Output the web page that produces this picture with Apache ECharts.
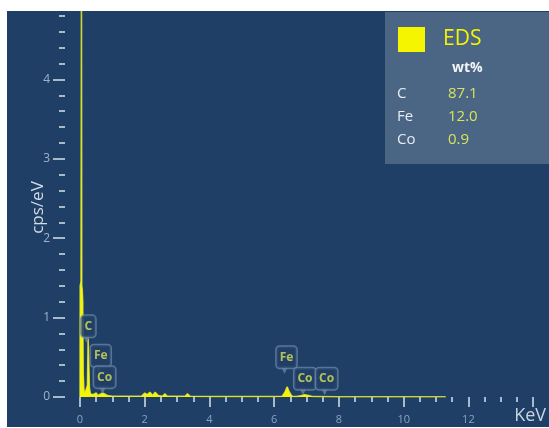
<!DOCTYPE html>
<html>
<head>
<meta charset="utf-8">
<script src="https://cdn.jsdelivr.net/npm/echarts@6/dist/echarts.min.js"></script>
<style>
    html, body { margin: 0; padding: 0; background: #ffffff; }
    #bg { position: absolute; left: 7px; top: 11px; width: 542px; height: 416px; background: #1f3f67; }
    #main { position: absolute; left: 0; top: 0; width: 549px; height: 428px; }
</style>
</head>
<body>
<div id="bg"></div>
<div id="main"></div>
<script>
    // EDS 能谱 (keV, cps/eV)
    var energy = [0, 0.005, 0.03, 0.045, 0.055, 0.07, 0.085, 0.1, 0.12, 0.15, 0.2, 0.23, 0.25, 0.27, 0.29, 0.32,
        0.4, 0.5, 0.55, 0.6, 0.7, 0.76, 0.85, 1.0, 1.3, 1.6, 1.9, 2.0, 2.08, 2.16, 2.25, 2.32, 2.42, 2.55,
        2.62, 2.7, 3.0, 3.25, 3.32, 3.4, 4.0, 5.0, 6.0, 6.25, 6.33, 6.4, 6.47, 6.55, 6.7, 6.85, 6.93, 7.06,
        7.2, 8.0, 9.0, 10.0, 11.3];
    var counts = [0.0, 1.4, 1.45, 5.6, 1.4, 1.35, 1.2, 0.3, 0.1, 0.04, 0.03, 0.15, 0.74, 0.5, 0.12, 0.04,
        0.03, 0.05, 0.02, 0.03, 0.05, 0.04, 0.02, 0.01, 0.01, 0.01, 0.01, 0.05, 0.03, 0.06, 0.02, 0.06, 0.02, 0.01,
        0.04, 0.01, 0.01, 0.01, 0.04, 0.01, 0.005, 0.005, 0.005, 0.01, 0.06, 0.13, 0.06, 0.01, 0.005, 0.02, 0.03, 0.02,
        0.005, 0.003, 0.003, 0.003, 0.003];

    // 峰标注
    var peakNames = ['C', 'Fe', 'Co', 'Fe', 'Co', 'Co'];
    var peakLabelKeV = [0.26, 0.64, 0.76, 6.38, 6.95, 7.62];
    var peakLabelCps = [0.89, 0.52, 0.25, 0.50, 0.23, 0.23];

    // 元素含量
    var elements = ['C', 'Fe', 'Co'];
    var wtPercent = ['87.1', '12.0', '0.9'];

    var xTicks = {min: 0, max: 14, interval: 2};
    var yTicks = {min: 0, max: 5, interval: 1};

    var spectrum = energy.map(function (e, i) {
        return [e, counts[i]];
    });
    var peakData = peakNames.map(function (n, i) {
        return {name: n, value: [peakLabelKeV[i], peakLabelCps[i]]};
    });

    var font = '"Open Sans", "Noto Sans", sans-serif';
    var tickColor = '#a9b9cc';
    var tableGraphic = [
        {type: 'rect', left: 385, top: 12, shape: {width: 164, height: 152}, style: {fill: '#4b6584'}, z: -1},
        {type: 'text', left: 452, top: 61, style: {text: 'wt%', fill: '#f2f5f8', font: 'bold 14px ' + font}}
    ];
    elements.forEach(function (el, i) {
        tableGraphic.push({type: 'text', left: 397, top: 86 + i * 23,
            style: {text: el, fill: '#e8edf3', font: '15px ' + font}});
        tableGraphic.push({type: 'text', left: 448, top: 86 + i * 23,
            style: {text: wtPercent[i], fill: '#d6e45a', font: '15px ' + font}});
    });
    // 顶部白边
    tableGraphic.push({type: 'rect', left: 0, top: 0, shape: {width: 549, height: 11}, style: {fill: '#ffffff'}, z: 100});

    var chart = echarts.init(document.getElementById('main'), null, {renderer: 'canvas'});
    chart.setOption({
        backgroundColor: 'transparent',
        animation: false,
        textStyle: {fontFamily: font},
        grid: [
            {left: 80, right: 13, top: 0, bottom: 31},
            // 刻度用，纵轴左移
            {left: 65, right: 13, top: 0, bottom: 31}
        ],
        legend: {
            data: ['EDS'],
            left: 393,
            top: 22,
            icon: 'rect',
            itemWidth: 27,
            itemHeight: 25,
            textStyle: {color: '#f5f500', fontSize: 21, fontFamily: font, padding: [0, 0, 0, 13]}
        },
        graphic: tableGraphic,
        xAxis: [
            {
                type: 'value',
                gridIndex: 0,
                min: xTicks.min,
                max: xTicks.max,
                interval: xTicks.interval,
                offset: 2,
                name: 'KeV',
                nameLocation: 'end',
                nameGap: -19,
                nameMoveOverlap: false,
                nameTextStyle: {color: '#c9d4e0', fontSize: 18, verticalAlign: 'top', padding: [10, 0, 0, 0]},
                axisLine: {show: false},
                axisTick: {length: 10, lineStyle: {color: tickColor, width: 2}},
                minorTick: {show: true, splitNumber: 4, length: 5, lineStyle: {color: tickColor, width: 2}},
                axisLabel: {color: '#8ca2bc', fontSize: 11, margin: 15, showMaxLabel: false},
                splitLine: {show: false}
            },
            {type: 'value', gridIndex: 1, min: 0, max: 1, show: false}
        ],
        yAxis: [
            {
                type: 'value',
                gridIndex: 0,
                min: yTicks.min,
                max: yTicks.max,
                show: false
            },
            {
                type: 'value',
                gridIndex: 1,
                min: yTicks.min,
                max: yTicks.max,
                interval: yTicks.interval,
                name: 'cps/eV',
                nameLocation: 'middle',
                nameGap: 18,
                nameMoveOverlap: false,
                nameTextStyle: {color: '#d3dbe4', fontSize: 17, padding: [0, 18, 0, 0]},
                axisLine: {show: false},
                axisTick: {length: 12, lineStyle: {color: tickColor, width: 2}},
                minorTick: {show: true, splitNumber: 5, length: 6, lineStyle: {color: tickColor, width: 2}},
                axisLabel: {color: '#a0b2c6', fontSize: 12, margin: 15, showMaxLabel: false},
                splitLine: {show: false}
            }
        ],
        series: [
            {
                name: 'EDS',
                type: 'line',
                data: spectrum,
                showSymbol: false,
                symbol: 'none',
                color: '#f5f500',
                lineStyle: {color: 'rgba(240,245,40,0.8)', width: 1.5},
                areaStyle: {color: '#f5f500', opacity: 1},
                z: 2
            },
            {
                name: 'pointers',
                type: 'scatter',
                data: peakData,
                symbol: 'triangle',
                symbolRotate: 180,
                symbolSize: [7, 7],
                symbolOffset: [-2, 13],
                itemStyle: {color: '#6883a3'},
                silent: true,
                z: 4
            },
            {
                name: 'peaks',
                type: 'scatter',
                data: peakData,
                symbolSize: 1,
                itemStyle: {color: 'rgba(0,0,0,0)'},
                label: {
                    show: true,
                    position: 'inside',
                    formatter: '{b}',
                    color: '#d6e45a',
                    fontSize: 12,
                    fontWeight: 'bold',
                    backgroundColor: '#203f67',
                    borderColor: '#6883a3',
                    borderWidth: 1.5,
                    borderRadius: 3,
                    padding: [5, 3, 4, 3]
                },
                z: 5
            }
        ]
    });
</script>
</body>
</html>
